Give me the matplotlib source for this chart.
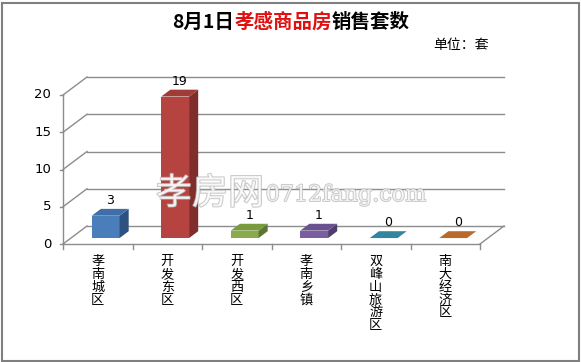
import matplotlib
matplotlib.use("Agg")
import matplotlib.pyplot as plt
from matplotlib.patches import Polygon, Rectangle
from matplotlib.offsetbox import TextArea, HPacker, AnnotationBbox
import matplotlib.patheffects as pe

plt.rcParams['font.family'] = ['Noto Sans CJK SC', 'DejaVu Sans']

categories = ["孝南城区", "开发东区", "开发西区", "孝南乡镇", "双峰山旅游区", "南大经济区"]
values = [3, 19, 1, 1, 0, 0]
front_colors = ["#4A7EBB", "#B5433F", "#8BAA4C", "#7A5FA0", "#3A93AC", "#C9742F"]
top_colors = ["#3F6EA9", "#A03B38", "#7A9A40", "#6A5290", "#31859C", "#B9692A"]
side_colors = ["#2E5180", "#7F2E2C", "#5C7630", "#4F3D6E", "#23667A", "#8E5020"]
yticks = [0, 5, 10, 15, 20]

W, H = 581, 362
fig = plt.figure(figsize=(W / 100, H / 100), dpi=100)

# frame
fig.patches.append(Rectangle((1.5 / W, 1.5 / H), (W - 4) / W, (H - 4) / H,
                             transform=fig.transFigure, fill=False,
                             edgecolor="#7f7f7f", linewidth=1.5))

# axes box in pixels
left, right, bottom, top = 63, 504, 244, 77
ax = fig.add_axes([left / W, 1 - bottom / H, (right - left) / W, (bottom - top) / H])
ax.axis("off")

n = len(categories)
# depth offset in data units: 24 px horizontally, 18 px vertically
cat_px = (480 - 63) / n
DX = 24 / cat_px
ppu = (244 - 95) / 20.0
DY = 18 / ppu
ax.set_xlim(0, n + DX)
ax.set_ylim(0, 20 + DY)

grid_c = "#8c8c8c"
lw = 1.0
# back wall gridlines + diagonals
for v in yticks:
    ax.plot([DX, n + DX], [v + DY, v + DY], color=grid_c, lw=lw, clip_on=False)
    ax.plot([0, DX], [v, v + DY], color=grid_c, lw=lw, clip_on=False)
    ax.plot([-0.04, 0], [v, v], color=grid_c, lw=lw, clip_on=False)
    ax.text(-0.17, v, str(v), ha="right", va="center", fontsize=9.5,
            family="DejaVu Sans", color="#000000")
# front y axis
ax.plot([0, 0], [0, 20], color=grid_c, lw=lw, clip_on=False)
# floor
ax.plot([0, n], [0, 0], color=grid_c, lw=lw, clip_on=False)
ax.plot([n, n + DX], [0, DY], color=grid_c, lw=lw, clip_on=False)
for i in range(n + 1):
    ax.plot([i, i], [0, -0.7], color=grid_c, lw=lw, clip_on=False)

# bars
f0 = 0.33
dd = 0.38
bw = 0.40
for i, (v, fc, tc, sc) in enumerate(zip(values, front_colors, top_colors, side_colors)):
    x0 = i + 0.5 - bw / 2 + f0 * DX
    y0 = f0 * DY
    yt = y0 + v
    ox, oy = dd * DX, dd * DY
    if v > 0:
        ax.add_patch(Rectangle((x0, y0), bw, v, facecolor=fc, edgecolor="none", zorder=3))
        ax.add_patch(Polygon([(x0 + bw, y0), (x0 + bw + ox, y0 + oy),
                              (x0 + bw + ox, yt + oy), (x0 + bw, yt)],
                             closed=True, facecolor=sc, edgecolor="none", zorder=3))
    ax.add_patch(Polygon([(x0, yt), (x0 + bw, yt), (x0 + bw + ox, yt + oy), (x0 + ox, yt + oy)],
                         closed=True, facecolor=tc, edgecolor="none", zorder=4))
    ax.annotate(str(v), (x0 + bw / 2 + ox / 2, yt + oy), xytext=(0, 6),
                textcoords="offset points", ha="center", va="center",
                fontsize=9, family="DejaVu Sans", zorder=5)
    # category label (vertical stacked chars)
    ax.annotate("\n".join(categories[i]), (i + 0.5, 0), xytext=(0, -8),
                textcoords="offset points", ha="center", va="top",
                fontsize=9.5, linespacing=0.98, annotation_clip=False)

# watermark
wm_fx = pe.withStroke(linewidth=1.2, foreground="#b0b0b0")
fig.text(210 / W, 1 - 194 / H, "孝房网", ha="center", va="center", fontsize=26,
         color="white", alpha=0.75, path_effects=[wm_fx], zorder=10)
fig.text(346 / W, 1 - 195 / H, "0712fang.com", ha="center", va="center", fontsize=16,
         family="DejaVu Serif", color="white", alpha=0.75, path_effects=[wm_fx], zorder=10)

# title
parts = [("8月1日", "#000000"), ("孝感商品房", "#E01010"), ("销售套数", "#000000")]
boxes = [TextArea(t, textprops=dict(color=c, fontsize=14, fontweight="bold")) for t, c in parts]
pack = HPacker(children=boxes, pad=0, sep=0, align="baseline")
ab = AnnotationBbox(pack, (291 / W, 1 - 22 / H), xycoords="figure fraction", frameon=False,
                    box_alignment=(0.5, 0.5))
fig.add_artist(ab)

fig.text(461 / W, 1 - 45 / H, "单位：套", ha="center", va="center", fontsize=10)

fig.savefig("out.png", dpi=100)
